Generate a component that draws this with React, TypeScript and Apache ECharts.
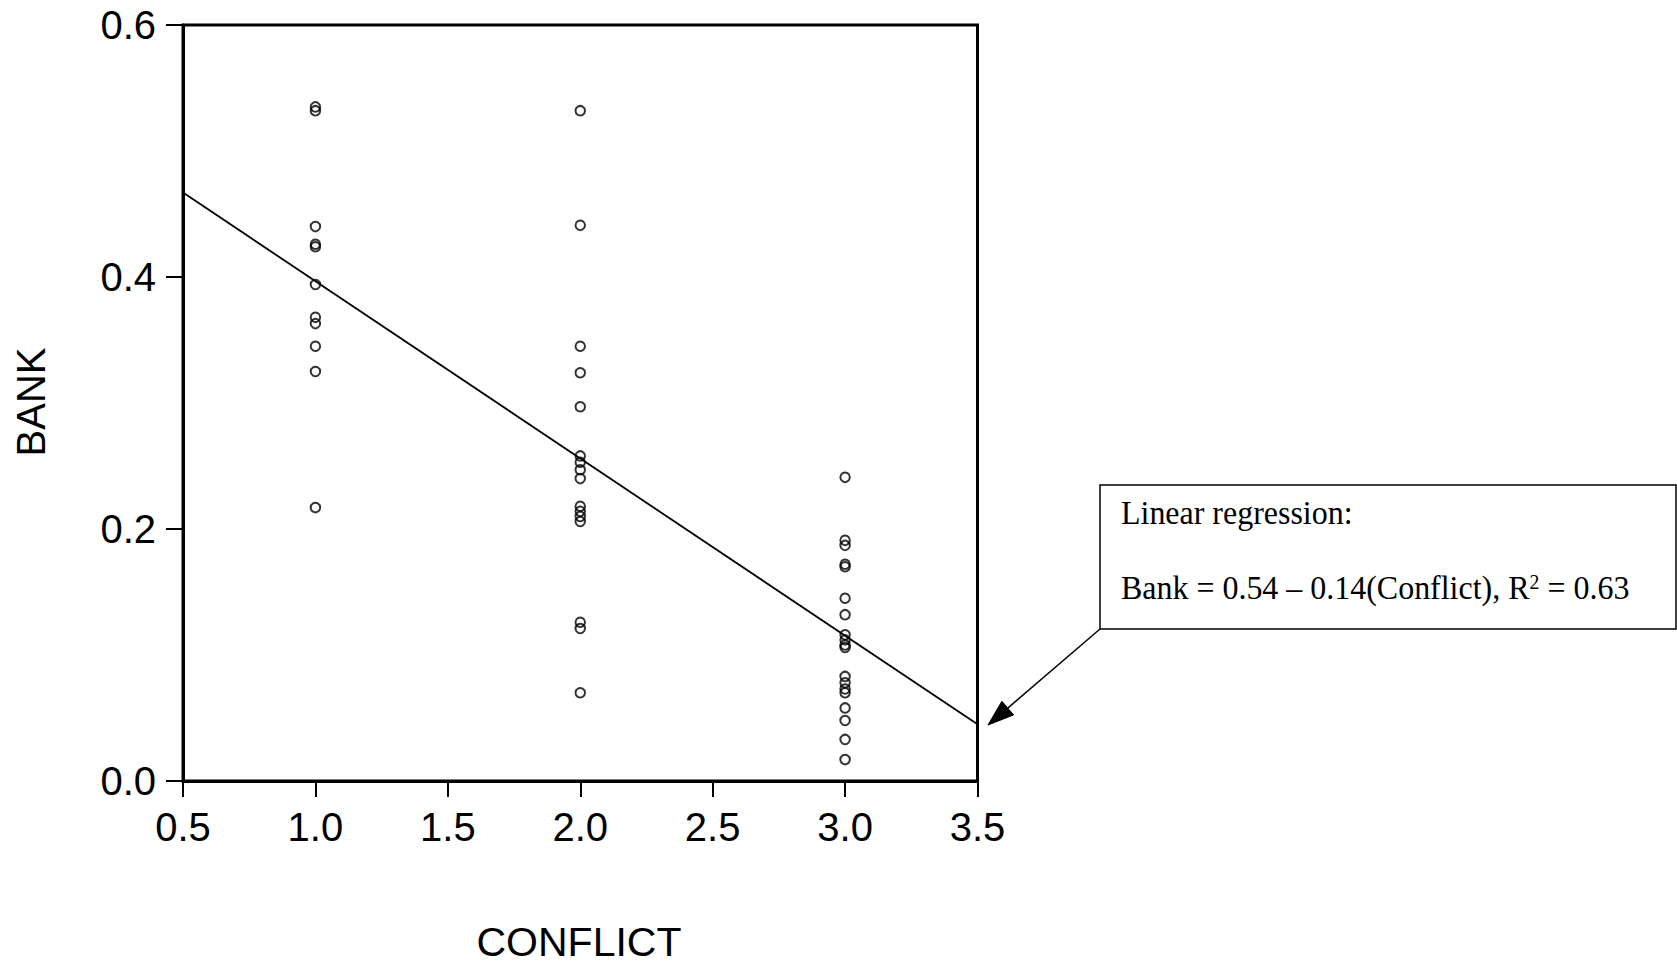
import React, { useEffect, useRef } from "react";
import * as echarts from "echarts";

// Data
const conflictLevels = [1.0, 2.0, 3.0];
const bankConflict1 = [0.535, 0.532, 0.44, 0.426, 0.424, 0.394, 0.368, 0.363, 0.345, 0.325, 0.217];
const bankConflict2 = [
  0.532, 0.441, 0.345, 0.324, 0.297, 0.258, 0.253, 0.247, 0.24, 0.218, 0.214, 0.21, 0.206, 0.126, 0.121, 0.07,
];
const bankConflict3 = [
  0.241, 0.191, 0.187, 0.172, 0.17, 0.145, 0.132, 0.116, 0.112, 0.108, 0.106, 0.083, 0.078, 0.073, 0.07, 0.058,
  0.048, 0.033, 0.017,
];
const fitX = [0.5, 3.5];
const fitY = [0.467, 0.045];

const xAxisTitle = "CONFLICT";
const yAxisTitle = "BANK";
const noteLine1 = "Linear regression:";
const noteLine2Main = "Bank = 0.54 \u2013 0.14(Conflict), R";
const noteLine2Sup = "2";
const noteLine2End = " = 0.63";

const SANS = "'Liberation Sans', Arial, sans-serif";
const SERIF = "'Liberation Serif', 'Times New Roman', serif";

export default function App() {
  const ref = useRef<HTMLDivElement>(null);

  useEffect(() => {
    if (!ref.current) return;
    const chart = echarts.init(ref.current, undefined, { renderer: "svg" });

    const groups = [bankConflict1, bankConflict2, bankConflict3];
    const scatterData: number[][] = [];
    groups.forEach((vals, i) => {
      vals.forEach((v) => scatterData.push([conflictLevels[i], v]));
    });
    const fitData = fitX.map((x, i) => [x, fitY[i]]);

    // arrow geometry (annotation)
    const tip = [988, 725];
    const start = [1100, 629];
    const dx = start[0] - tip[0];
    const dy = start[1] - tip[1];
    const len = Math.sqrt(dx * dx + dy * dy);
    const ux = dx / len;
    const uy = dy / len;
    const headLen = 26;
    const headHalf = 9;
    const bx = tip[0] + ux * headLen;
    const by = tip[1] + uy * headLen;
    const nx = -uy;
    const ny = ux;

    chart.setOption({
      animation: false,
      backgroundColor: "#fff",
      grid: {
        left: 183,
        top: 25,
        right: 699.5,
        bottom: 183,
        show: true,
        borderColor: "#000",
        borderWidth: 3,
        backgroundColor: "transparent",
      },
      xAxis: {
        type: "value",
        min: 0.5,
        max: 3.5,
        interval: 0.5,
        axisLine: { show: true, onZero: false, lineStyle: { color: "#000", width: 3 } },
        axisTick: { show: true, inside: false, length: 16, lineStyle: { color: "#000", width: 2 } },
        splitLine: { show: false },
        axisLabel: {
          margin: 26,
          color: "#000",
          fontSize: 40,
          fontFamily: SANS,
          formatter: (v: number) => v.toFixed(1),
        },
      },
      yAxis: {
        type: "value",
        min: 0,
        max: 0.6,
        interval: 0.2,
        axisLine: { show: true, onZero: false, lineStyle: { color: "#000", width: 3 } },
        axisTick: { show: true, inside: false, length: 17, lineStyle: { color: "#000", width: 2 } },
        splitLine: { show: false },
        axisLabel: {
          margin: 27,
          color: "#000",
          fontSize: 40,
          fontFamily: SANS,
          padding: [0, 0, 8, 0],
          formatter: (v: number) => v.toFixed(1),
        },
      },
      series: [
        {
          type: "line",
          data: fitData,
          showSymbol: false,
          symbol: "none",
          lineStyle: { color: "#000", width: 1.8 },
          z: 2,
          silent: true,
        },
        {
          type: "scatter",
          data: scatterData,
          symbol: "circle",
          symbolSize: 9.5,
          itemStyle: { color: "rgba(0,0,0,0)", borderColor: "#000", borderWidth: 2 },
          z: 3,
          silent: true,
        },
      ],
      graphic: [
        {
          type: "text",
          x: 31,
          y: 402,
          rotation: Math.PI / 2,
          style: {
            text: yAxisTitle,
            fill: "#000",
            font: `40px ${SANS}`,
            textAlign: "center",
            textVerticalAlign: "middle",
          },
        },
        {
          type: "text",
          x: 579,
          y: 942,
          style: {
            text: xAxisTitle,
            fill: "#000",
            font: `41px ${SANS}`,
            lineHeight: 34,
            textAlign: "center",
            textVerticalAlign: "middle",
          },
        },
        {
          type: "rect",
          shape: { x: 1100, y: 485, width: 576, height: 144 },
          style: { fill: "#fff", stroke: "#000", lineWidth: 1.5 },
        },
        {
          type: "text",
          x: 1121,
          y: 513,
          scaleX: 0.94,
          style: {
            text: noteLine1,
            fill: "#000",
            font: `34px ${SERIF}`,
            textAlign: "left",
            textVerticalAlign: "middle",
          },
        },
        {
          type: "text",
          x: 1121,
          y: 588,
          scaleX: 0.94,
          style: {
            text: `{n|${noteLine2Main}}{s|${noteLine2Sup}}{n|${noteLine2End}}`,
            fill: "#000",
            textAlign: "left",
            textVerticalAlign: "middle",
            rich: {
              n: { fontSize: 34, fontFamily: SERIF, color: "#000", lineHeight: 34 },
              s: { fontSize: 21, fontFamily: SERIF, color: "#000", verticalAlign: "top", lineHeight: 13 },
            },
          },
        },
        {
          type: "line",
          shape: { x1: start[0], y1: start[1], x2: bx, y2: by },
          style: { stroke: "#000", lineWidth: 1.5 },
        },
        {
          type: "polygon",
          shape: {
            points: [
              [tip[0], tip[1]],
              [bx + nx * headHalf, by + ny * headHalf],
              [bx - nx * headHalf, by - ny * headHalf],
            ],
          },
          style: { fill: "#000", stroke: "#000", lineWidth: 1 },
        },
      ],
    });

    return () => {
      chart.dispose();
    };
  }, []);

  return (
    <div
      ref={ref}
      style={{ position: "fixed", left: 0, top: 0, width: 1677, height: 964, background: "#fff" }}
    />
  );
}
